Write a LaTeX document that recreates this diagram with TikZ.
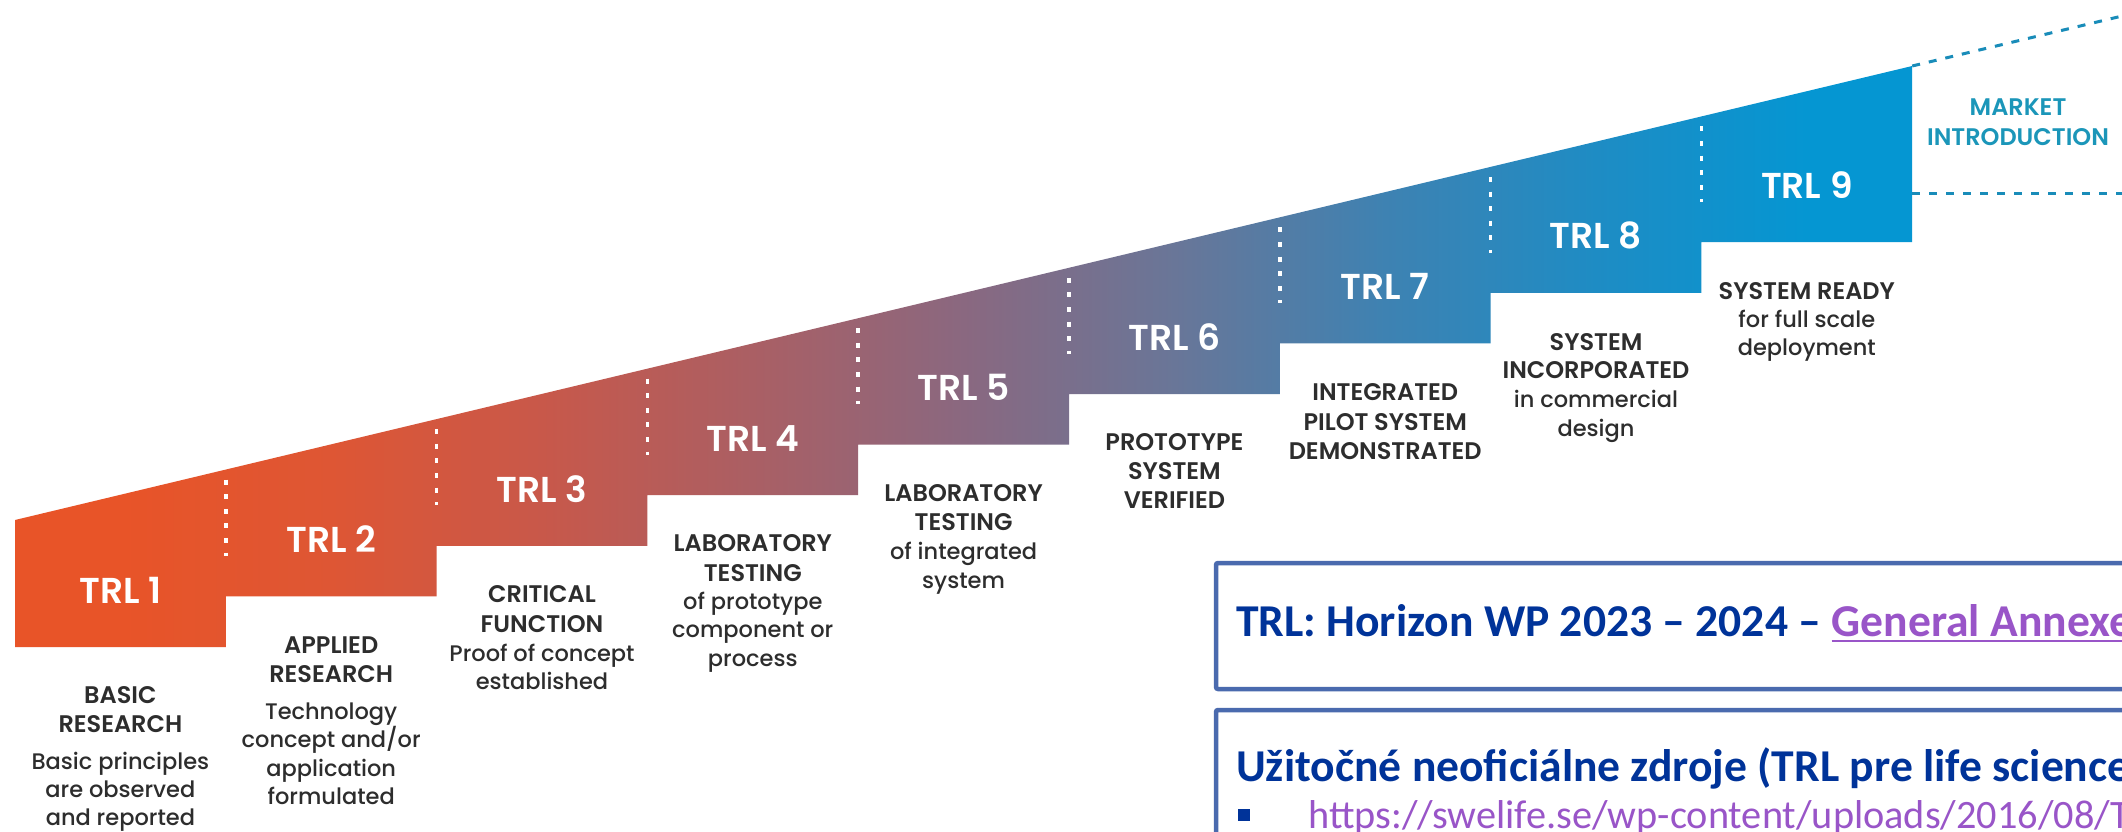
\documentclass[tikz,border=0pt]{standalone}
\usepackage{fontspec}
\newfontfamily\popsb{Poppins SemiBold}
\newfontfamily\popmd{Poppins Medium}
\newfontfamily\carl{Carlito}
\definecolor{c1}{RGB}{232,84,40}
\definecolor{c2}{RGB}{222,86,52}
\definecolor{c3}{RGB}{200,88,74}
\definecolor{c4}{RGB}{170,95,100}
\definecolor{c5}{RGB}{138,104,128}
\definecolor{c6}{RGB}{105,118,152}
\definecolor{c7}{RGB}{62,130,178}
\definecolor{c8}{RGB}{30,140,196}
\definecolor{c9}{RGB}{5,150,210}
\definecolor{txtgray}{RGB}{45,45,45}
\definecolor{teal}{RGB}{27,150,185}
\definecolor{dashblue}{RGB}{25,140,185}
\definecolor{boxblue}{RGB}{74,106,174}
\definecolor{hdrblue}{RGB}{0,51,153}
\definecolor{linkpurple}{RGB}{153,85,200}
\pgfdeclarehorizontalshading{trlshade}{100bp}{color(0bp)=(c1); color(27.78bp)=(c1); color(33.33bp)=(c2); color(38.89bp)=(c3); color(44.44bp)=(c4); color(50bp)=(c5); color(55.56bp)=(c6); color(61.11bp)=(c7); color(66.67bp)=(c8); color(72.22bp)=(c9); color(100bp)=(c9)}
\newcommand\lw{\popmd\fontsize{22.5}{28}\selectfont}
\tikzset{
  lab/.style={text=white, inner sep=0pt, font=\popsb\fontsize{36}{36}\selectfont},
  desc/.style={text=txtgray, inner sep=0pt, align=center, anchor=north, font=\popsb\fontsize{24}{28.3}\selectfont},
  dotsty/.style={draw=white, line width=3.5pt, dash pattern=on 5pt off 9.6pt},
  dashsty/.style={draw=dashblue, line width=3pt, dash pattern=on 8pt off 9pt},
  boxsty/.style={draw=boxblue, line width=4.5pt, rounded corners=2pt},
  hdr/.style={text=hdrblue, inner sep=0pt, anchor=base west, font=\carl\bfseries\fontsize{45.6}{50}\selectfont},
  urlsty/.style={text=linkpurple, inner sep=0pt, anchor=base west, font=\carl\fontsize{40.3}{46}\selectfont},
  mkt/.style={text=teal, inner sep=0pt, align=center, font=\popsb\fontsize{24}{30}\selectfont}
}
\begin{document}
\begin{tikzpicture}[x=1pt,y=-1pt]
\clip (0,0) rectangle (2122,832);
\fill[white] (0,0) rectangle (2122,832);
% staircase band
\shade[shading=trlshade] (15,520) -- (1912.2,66) -- (1912.2,242.2) -- (1701.4,242.2) -- (1701.4,292.8) -- (1490.6,292.8) -- (1490.6,343.4) -- (1279.8,343.4) -- (1279.8,394) -- (1069,394) -- (1069,444.6) -- (858.2,444.6) -- (858.2,495.2) -- (647.4,495.2) -- (647.4,545.8) -- (436.6,545.8) -- (436.6,596.4) -- (225.8,596.4) -- (225.8,647) -- (15,647) -- cycle;
% dotted separators
\foreach \i in {1,...,8}
  \draw[dotsty] ({15+210.8*\i},{530-50.44*\i}) -- ++(0,76);
% labels
\foreach \i in {1,...,9}
  \node[lab] (lab\i) at ({15+210.8*(\i-0.5)},{590-50.6*(\i-1)}) {TRL \i};
% descriptions
\node[desc] (d1) at (120.4,686.5) {BASIC\\RESEARCH\\[9pt]\lw Basic principles\\\lw are observed\\\lw and reported};
\node[desc] (d2) at (331.2,637) {APPLIED\\RESEARCH\\[9pt]\lw Technology\\\lw concept and/or\\\lw application\\\lw formulated};
\node[desc] (d3) at (542,585.3) {CRITICAL\\[2pt]FUNCTION\\\lw Proof of concept\\\lw established};
\node[desc] (d4) at (752.8,534.7) {LABORATORY\\[1pt]TESTING\\\lw of prototype\\\lw component or\\\lw process};
\node[desc] (d5) at (963.6,484.1) {LABORATORY\\[1pt]TESTING\\[1pt]\lw of integrated\\\lw system};
\node[desc] (d6) at (1174.4,433.5) {PROTOTYPE\\[1pt]SYSTEM\\VERIFIED};
\node[desc] (d7) at (1385.2,382.9) {INTEGRATED\\[2pt]PILOT SYSTEM\\[1pt]DEMONSTRATED};
\node[desc] (d8) at (1596,333) {SYSTEM\\INCORPORATED\\[1pt]\lw in commercial\\\lw design};
\node[desc] (d9) at (1806.8,282) {SYSTEM READY\\\lw for full scale\\\lw deployment};
% market introduction
\coordinate (tr9) at (1912.2,66);
\coordinate (ue) at (2160,7);
\coordinate (ml) at (1912.2,193);
\coordinate (mr) at (2160,193);
\draw[dashsty] (tr9) -- (ue);
\draw[dashsty] (ml) -- (mr);
\node[mkt] (mi) at (2018,122) {MARKET\\INTRODUCTION};
% boxes
\draw[boxsty] (1216,563) rectangle (2220,689);
\draw[boxsty] (1216,710) rectangle (2220,900);
\node[hdr] (h1) at (1236,636) {TRL: Horizon WP 2023 – 2024 –};
\node[hdr, text=linkpurple, xshift=10.3pt] (ga) at (h1.base east) {General Annexe};
\draw[linkpurple, line width=2.4pt] ([yshift=-5pt]ga.base west) -- ([yshift=-5pt]ga.base east);
\node[hdr] (h2) at (1236,781) {Užitočné neoficiálne zdroje (TRL pre life science};
\node[fill=hdrblue, minimum size=12pt, inner sep=0pt] (bul) at (1244,815) {};
\node[urlsty] (u1) at (1308,828) {https://swelife.se/wp-content/uploads/2016/08/T};
\end{tikzpicture}
\end{document}
